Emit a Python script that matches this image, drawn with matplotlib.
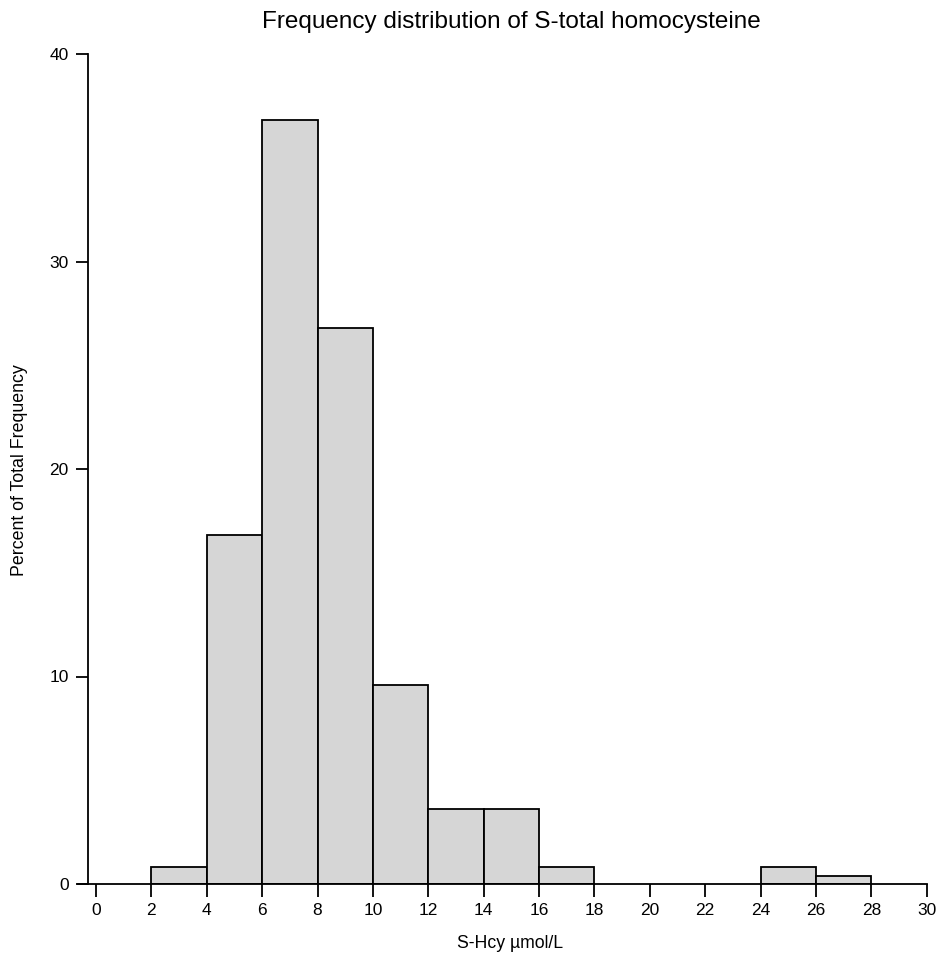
import matplotlib.pyplot as plt

plt.rcParams['font.family'] = ['Liberation Sans', 'DejaVu Sans']

bin_left = [2, 4, 6, 8, 10, 12, 14, 16, 24, 26]
bin_width = 2
percent = [0.8, 16.8, 36.8, 26.8, 9.6, 3.6, 3.6, 0.8, 0.8, 0.4]

x_ticks = list(range(0, 31, 2))
y_ticks = [0, 10, 20, 30, 40]

W, H = 936, 956
fig = plt.figure(figsize=(W / 100, H / 100), dpi=100)
ax = fig.add_axes([78 / W, (H - 884) / H, (926.7 - 78) / W, (884 - 54) / H])

ax.bar(bin_left, percent, width=bin_width, align='edge',
       color='#d6d6d6', edgecolor='black', linewidth=1.3)

ax.set_xlim(-0.65, 30)
ax.set_ylim(0, 40)
for s in ['top', 'right']:
    ax.spines[s].set_visible(False)
ax.spines['left'].set_position(('data', -0.29))
ax.spines['left'].set_bounds(0, 40)
ax.spines['bottom'].set_bounds(-0.65, 30)
for s in ['left', 'bottom']:
    ax.spines[s].set_linewidth(1.3)

ax.set_xticks(x_ticks)
ax.set_yticks(y_ticks)
ax.tick_params(axis='both', direction='out', length=9, width=1.3, labelsize=12.5)
ax.tick_params(axis='x', pad=5)
ax.tick_params(axis='y', pad=5)

fig.text(511 / W, 1 - 22 / H, 'Frequency distribution of S-total homocysteine',
         ha='center', va='center', fontsize=17.5)
fig.text(510 / W, 1 - 944 / H, 'S-Hcy µmol/L', ha='center', va='center', fontsize=12.7)
fig.text(20 / W, 1 - 470 / H, 'Percent of Total Frequency', ha='center', va='center',
         rotation=90, fontsize=12.8)

fig.savefig('out.png', dpi=100)
